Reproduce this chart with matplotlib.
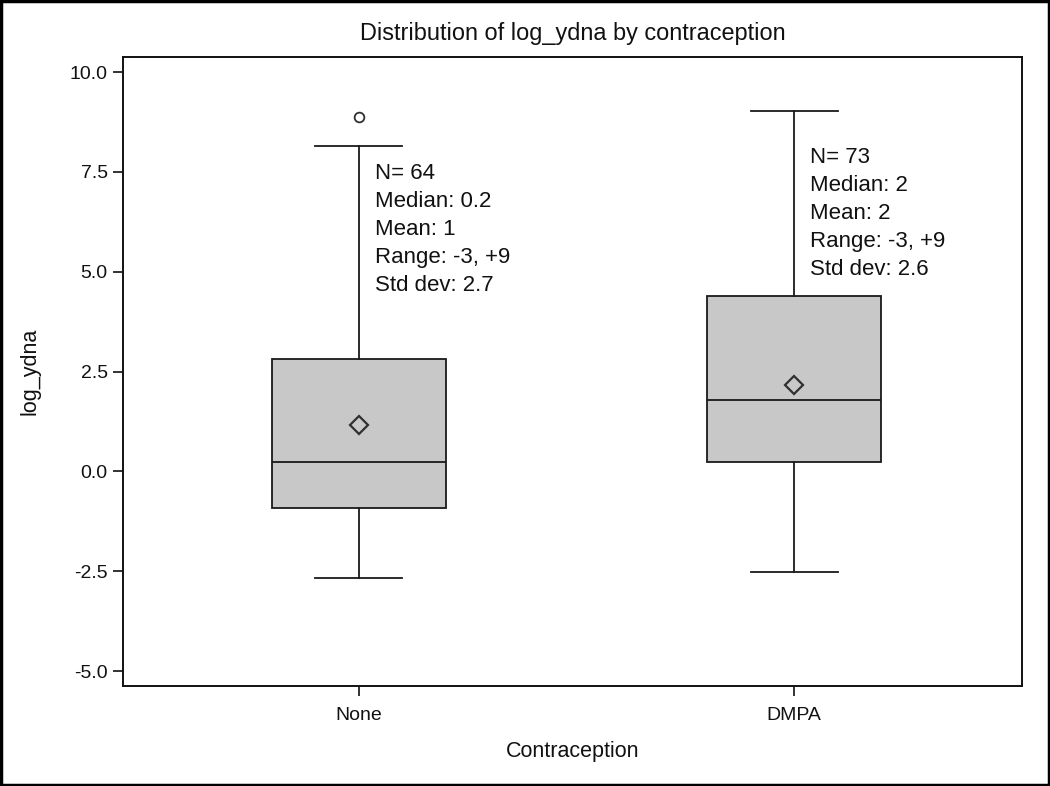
import matplotlib
matplotlib.use("Agg")
import matplotlib.pyplot as plt
from matplotlib.patches import Rectangle

plt.rcParams['font.family'] = ['Liberation Sans', 'DejaVu Sans']

categories = ["None", "DMPA"]
q1 = [-0.92, 0.23]
medians = [0.23, 1.79]
q3 = [2.81, 4.39]
whisker_low = [-2.67, -2.52]
whisker_high = [8.15, 9.02]
means = [1.16, 2.16]
outliers = [[8.87], []]
stat_lines = [
    ["N= 64", "Median: 0.2", "Mean: 1", "Range: -3, +9", "Std dev: 2.7"],
    ["N= 73", "Median: 2", "Mean: 2", "Range: -3, +9", "Std dev: 2.6"],
]
y_ticks = [-5.0, -2.5, 0.0, 2.5, 5.0, 7.5, 10.0]

fig = plt.figure(figsize=(10.5, 7.86), dpi=100)
ax = fig.add_axes([0.1171, 0.1272, 0.8562, 0.8003])

positions = [1, 2]
stats = []
for i, c in enumerate(categories):
    stats.append(dict(label=c, q1=q1[i], med=medians[i], q3=q3[i],
                      whislo=whisker_low[i], whishi=whisker_high[i],
                      mean=means[i], fliers=outliers[i]))

lw = 1.3
ax.bxp(stats, positions=positions, widths=0.4, showmeans=True, patch_artist=True,
       boxprops=dict(facecolor='#c8c8c8', edgecolor='#1a1a1a', linewidth=lw),
       medianprops=dict(color='#1a1a1a', linewidth=lw),
       whiskerprops=dict(color='#1a1a1a', linewidth=lw),
       capprops=dict(color='#1a1a1a', linewidth=lw),
       capwidths=0.2,
       meanprops=dict(marker='D', markerfacecolor='none', markeredgecolor='#303030',
                      markeredgewidth=1.6, markersize=9),
       flierprops=dict(marker='o', markerfacecolor='none', markeredgecolor='#303030',
                       markeredgewidth=1.3, markersize=7))

text_tops = [7.72, 8.12]
for i, lines in enumerate(stat_lines):
    for j, t in enumerate(lines):
        ax.annotate(t, xy=(positions[i] + 0.037, text_tops[i]),
                    xytext=(0, -j * 20.2), textcoords='offset points',
                    ha='left', va='top', fontsize=16, color='#111111')

ax.set_xlim(0.4575, 2.524)
ax.set_ylim(-5.376, 10.376)
ax.set_yticks(y_ticks)
ax.set_yticklabels([f"{v:.1f}" for v in y_ticks])
ax.set_xticks(positions)
ax.set_xticklabels(categories)
ax.tick_params(direction='out', length=7, width=1.2, labelsize=14, colors='#111111', pad=4)
ax.tick_params(axis='x', pad=8)
for s in ax.spines.values():
    s.set_linewidth(1.4)
    s.set_color('#111111')

ax.set_title("Distribution of log_ydna by contraception", fontsize=16.9, pad=12, color='#111111')
ax.set_xlabel("Contraception", fontsize=15.5, labelpad=12, color='#111111')
ax.set_ylabel("log_ydna", fontsize=15.5, labelpad=21, color='#111111')

fig.patches.append(Rectangle((0.001, 0.001), 0.998, 0.998, transform=fig.transFigure,
                             fill=False, edgecolor='black', linewidth=2.5))

fig.savefig("out.png", dpi=100)
